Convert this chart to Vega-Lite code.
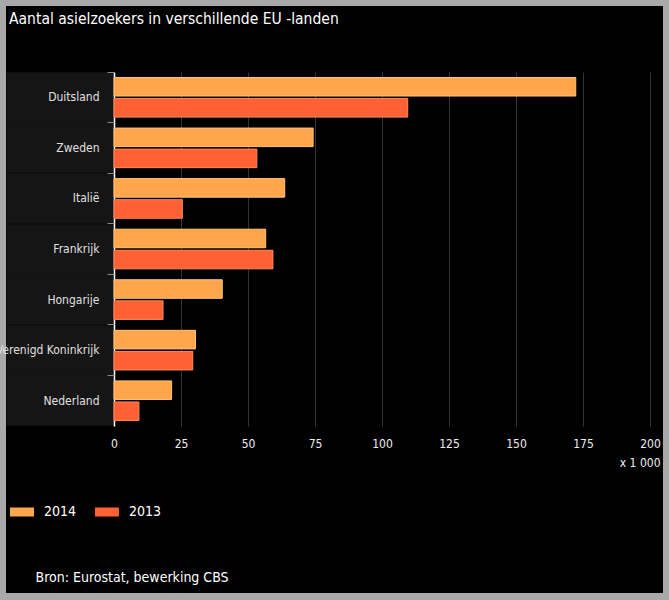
{
  "$schema": "https://vega.github.io/schema/vega-lite/v6.json",
  "width": 657,
  "height": 587,
  "autosize": "none",
  "padding": {"left": 6, "top": 6, "right": 6, "bottom": 7},
  "background": "#a9a9a9",
  "title": {
    "text": "Aantal asielzoekers in verschillende EU -landen",
    "anchor": "start",
    "frame": "group",
    "orient": "top",
    "offset": -33,
    "dx": 3,
    "color": "#ffffff",
    "font": "DejaVu Sans Condensed",
    "fontSize": 15.5,
    "fontWeight": "normal",
    "baseline": "alphabetic"
  },
  "config": {
    "view": {"fill": "#000000", "stroke": null},
    "font": "DejaVu Sans Condensed"
  },
  "data": {
    "values": [
      {"land": "Duitsland", "jaar": "2014", "aantal": 172.3},
      {"land": "Duitsland", "jaar": "2013", "aantal": 109.6},
      {"land": "Zweden", "jaar": "2014", "aantal": 74.3},
      {"land": "Zweden", "jaar": "2013", "aantal": 53.3},
      {"land": "Italië", "jaar": "2014", "aantal": 63.7},
      {"land": "Italië", "jaar": "2013", "aantal": 25.5},
      {"land": "Frankrijk", "jaar": "2014", "aantal": 56.6},
      {"land": "Frankrijk", "jaar": "2013", "aantal": 59.3},
      {"land": "Hongarije", "jaar": "2014", "aantal": 40.4},
      {"land": "Hongarije", "jaar": "2013", "aantal": 18.3},
      {"land": "Verenigd Koninkrijk", "jaar": "2014", "aantal": 30.4},
      {"land": "Verenigd Koninkrijk", "jaar": "2013", "aantal": 29.4},
      {"land": "Nederland", "jaar": "2014", "aantal": 21.5},
      {"land": "Nederland", "jaar": "2013", "aantal": 9.3}
    ]
  },
  "resolve": {"axis": {"y": "independent", "x": "independent"}},
  "layer": [
    {
      "mark": {"type": "bar", "strokeWidth": 1},
      "encoding": {
        "y": {
          "field": "land",
          "type": "nominal",
          "sort": ["Duitsland", "Zweden", "Italië", "Frankrijk", "Hongarije", "Verenigd Koninkrijk", "Nederland"],
          "scale": {"range": [66, 420], "paddingInner": 0, "paddingOuter": 0},
          "axis": {
            "orient": "left",
            "offset": -108,
            "title": null,
            "domain": true,
            "domainColor": "#ffffff",
            "domainWidth": 1.5,
            "ticks": true,
            "bandPosition": 0.5,
            "tickColor": "#151515",
            "tickSize": 108,
            "tickWidth": 50.6,
            "tickCap": "butt",
            "labelPadding": -93,
            "labelColor": "#e0e0e0",
            "labelFont": "DejaVu Sans Condensed",
            "labelFontSize": 12,
            "labelAlign": "right",
            "labelBaseline": "middle",
            "labelLimit": 300,
            "grid": false
          }
        },
        "yOffset": {
          "field": "jaar",
          "type": "nominal",
          "sort": ["2014", "2013"],
          "scale": {"paddingInner": 0.12, "paddingOuter": 0.26}
        },
        "x": {
          "field": "aantal",
          "type": "quantitative",
          "scale": {"domain": [0, 200], "range": [108, 644], "nice": false},
          "axis": {
            "orient": "bottom",
            "offset": -167,
            "values": [0, 25, 50, 75, 100, 125, 150, 175, 200],
            "domain": false,
            "ticks": false,
            "tickSize": 0,
            "grid": false,
            "labelColor": "#eeeeee",
            "labelFont": "DejaVu Sans Condensed",
            "labelFontSize": 12,
            "labelPadding": 12,
            "labelFlush": false,
            "title": "x 1 000",
            "titleColor": "#eeeeee",
            "titleFont": "DejaVu Sans Condensed",
            "titleFontSize": 12,
            "titleFontWeight": "normal",
            "titleAlign": "right",
            "titleBaseline": "alphabetic",
            "titleX": 654,
            "titleY": 40
          }
        },
        "fill": {
          "field": "jaar",
          "type": "nominal",
          "scale": {"domain": ["2014", "2013"], "range": ["#ffa64d", "#ff6135"]},
          "legend": {
            "orient": "none",
            "legendX": 4,
            "legendY": 494,
            "direction": "horizontal",
            "title": null,
            "padding": 0,
            "symbolType": "M-1,-0.375H1V0.375H-1Z",
            "symbolSize": 576,
            "symbolStrokeWidth": 0,
            "symbolOpacity": 1,
            "labelColor": "#ffffff",
            "labelFont": "DejaVu Sans Condensed",
            "labelFontSize": 14,
            "labelOffset": 10,
            "columnPadding": 18
          }
        },
        "stroke": {
          "field": "jaar",
          "type": "nominal",
          "scale": {"domain": ["2014", "2013"], "range": ["#ffc478", "#ff8a5e"]},
          "legend": null
        }
      }
    },
    {
      "mark": {"type": "point", "opacity": 0},
      "encoding": {
        "y": {
          "field": "land",
          "type": "nominal",
          "sort": ["Duitsland", "Zweden", "Italië", "Frankrijk", "Hongarije", "Verenigd Koninkrijk", "Nederland"],
          "scale": {"range": [66, 420], "paddingInner": 0, "paddingOuter": 0},
          "axis": {
            "orient": "left",
            "offset": -108,
            "domain": false,
            "labels": false,
            "grid": false,
            "ticks": true,
            "bandPosition": 0,
            "tickColor": "#8a8a8a",
            "tickSize": 7,
            "tickWidth": 1,
            "title": "Bron: Eurostat, bewerking CBS",
            "titleAngle": 0,
            "titleX": -79,
            "titleY": 575,
            "titleAlign": "left",
            "titleBaseline": "alphabetic",
            "titleColor": "#ffffff",
            "titleFont": "DejaVu Sans Condensed",
            "titleFontSize": 14,
            "titleFontWeight": "normal",
            "zindex": 1
          }
        },
        "x": {
          "field": "aantal",
          "type": "quantitative",
          "scale": {"domain": [0, 200], "range": [108, 644], "nice": false},
          "axis": {
            "orient": "bottom",
            "offset": -167,
            "values": [25, 50, 75, 100, 125, 150, 175, 200],
            "domain": false,
            "labels": false,
            "grid": false,
            "ticks": true,
            "tickSize": -354,
            "tickColor": "#333333",
            "tickWidth": 1,
            "title": null,
            "zindex": 0
          }
        }
      }
    }
  ]
}
